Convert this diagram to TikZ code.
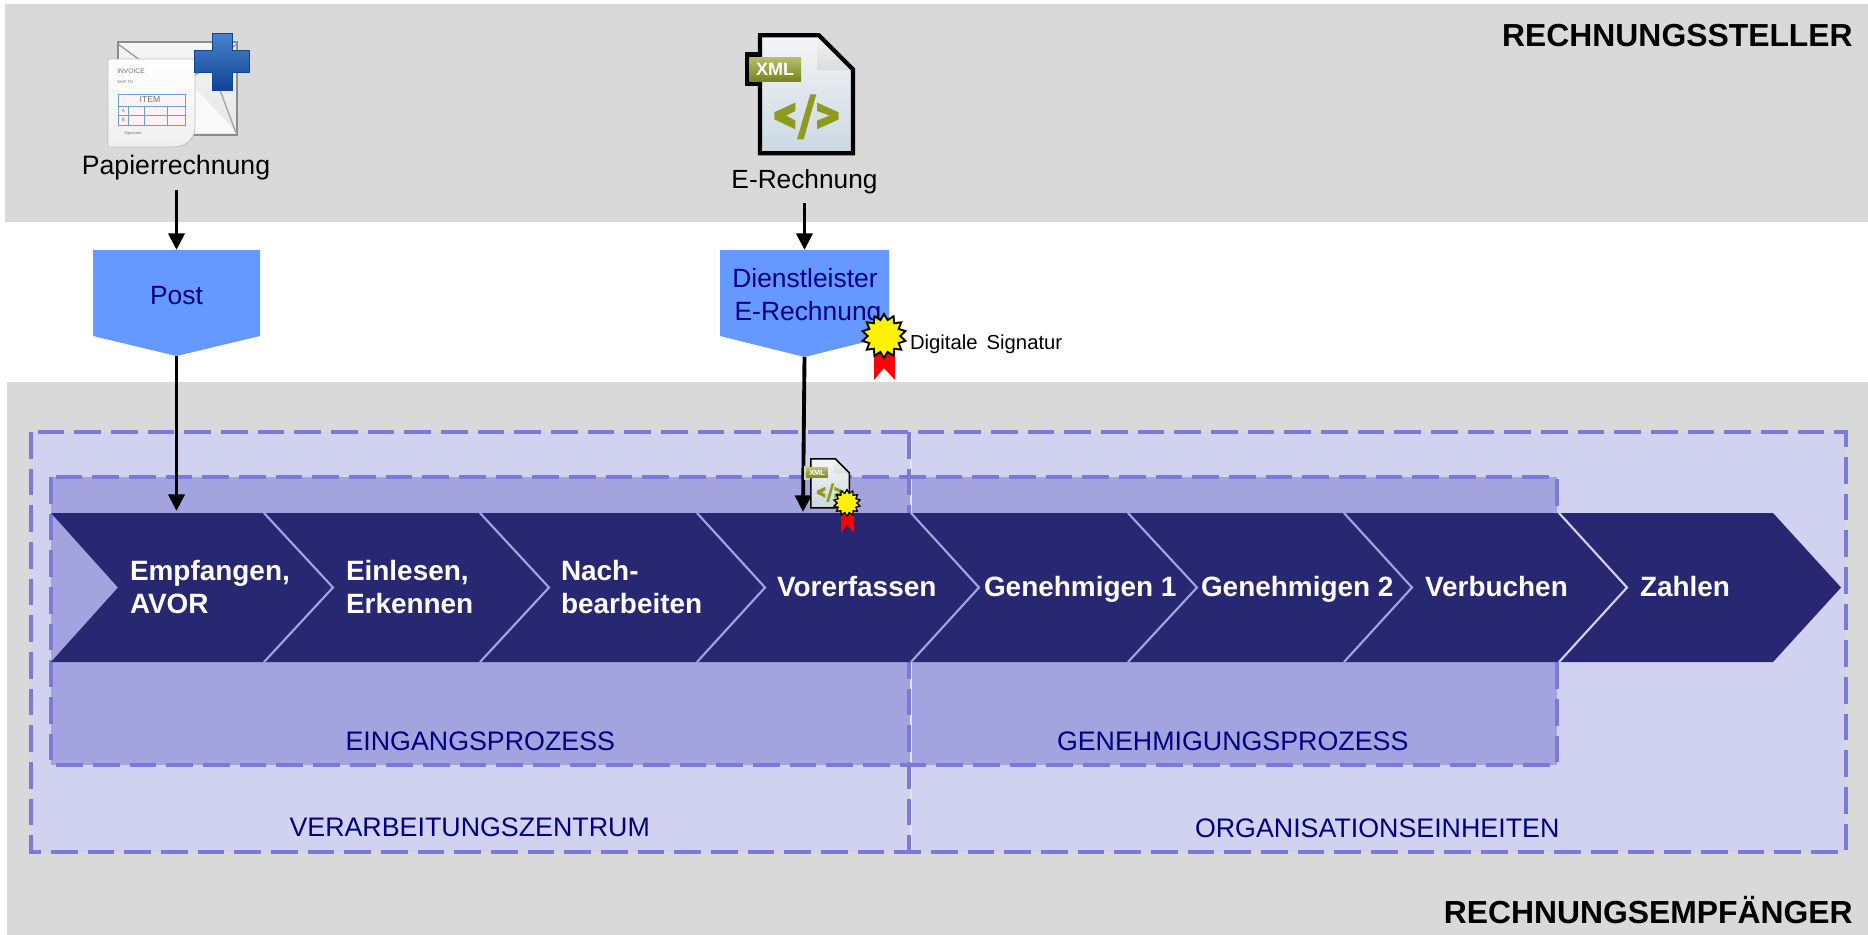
\documentclass[tikz,border=0pt]{standalone}
\usepackage{fontspec}
\setmainfont{Liberation Sans}
\usetikzlibrary{arrows.meta,shapes.geometric}
\definecolor{grayband}{HTML}{D9D9D9}
\definecolor{outerfill}{HTML}{D0D2F0}
\definecolor{innerfill}{HTML}{A3A3DF}
\definecolor{dashcol}{HTML}{7B7BD6}
\definecolor{chevcol}{HTML}{272772}
\definecolor{navytext}{HTML}{000080}
\definecolor{postblue}{HTML}{6699FF}
\definecolor{olive}{HTML}{8F9B1E}
\definecolor{docbottom}{HTML}{CAD8E2}
\definecolor{tablecol}{HTML}{6F9BD8}
\definecolor{plustop}{HTML}{4A82CC}
\definecolor{plusbot}{HTML}{0F4595}
\tikzset{
  lbl/.style={inner sep=0pt,outer sep=0pt,anchor=base west},
  chevtext/.style={lbl,text=white,font=\fontsize{20.95}{25}\selectfont\bfseries},
  areatext/.style={lbl,text=navytext,font=\fontsize{20.1}{24}\selectfont},
  headtext/.style={inner sep=0pt,anchor=base east,font=\fontsize{23.9}{29}\selectfont\bfseries},
  dashbox/.style={draw=dashcol,line width=2.4pt,dash pattern=on 20pt off 7.5pt},
  flow/.style={draw=black,line width=2.9pt,-{Triangle[length=12.5pt,width=12pt]}},
  sep/.style={draw=innerfill,line width=1.6pt},
  tinytext/.style={inner sep=0pt,text=black!55,font=\fontsize{#1}{#1}\selectfont},
}
\newcommand{\docicon}[5]{%
\begin{scope}[shift={(#1,#2)},scale=#3]
  \path[#5] (-13.3,19) rectangle (3,53);
  \shade[top color=white!96!black,bottom color=docbottom] (2,2)--(61,2)--(95,36)--(95,120)--(2,120)--cycle;
  \shade[top color=white!90!gray,bottom color=white!72!gray] (59,4)--(93,37)--(59,37)--cycle;
  \draw[line width=#4,line join=miter] (2,2)--(61,2)--(95,36)--(95,120)--(2,120)--cycle;
  \shade[top color=olive!65!white,bottom color=olive!85!black] (-8.7,24) rectangle (43,48);
  \node[inner sep=0pt,transform shape,text=white,font=\fontsize{13.5}{14}\selectfont\bfseries] (xml#1) at (17.2,36) {XML};
  \fill[olive] (37.3,69.3)--(37.3,77.7)--(28.3,82.3)--(37.3,87.3)--(37.3,96)--(16.3,86)--(16.3,79)--cycle;
  \fill[olive] (59,69.3)--(80.7,79)--(80.7,86)--(59,96)--(59,87.3)--(71.7,82.3)--(59,77.7)--cycle;
  \fill[olive] (52.3,61)--(58.3,61)--(45.7,106)--(39,106)--cycle;
\end{scope}}
\newcommand{\sealicon}[9]{%
  \fill[red] (#3,#2) -- (#4,#2) -- (#4,#6) -- (#1,#7) -- (#3,#6) -- cycle;
  \node[star,star points=14,star point ratio=1.35,minimum size=#8,inner sep=0pt,draw=black,line width=#9,fill=yellow] (seal#1) at (#1,#5) {};
}
\begin{document}
\begin{tikzpicture}[x=0.75pt,y=-0.75pt]
\useasboundingbox (0,0) rectangle (1868,935);
% bands
\fill[grayband] (5,4) rectangle (1868,222);
\fill[grayband] (7,382) rectangle (1868,935);
\node[headtext] (steller) at (1853,46) {RECHNUNGSSTELLER};
\node[headtext] (empf) at (1853,923) {RECHNUNGSEMPFÄNGER};
% outer areas
\fill[outerfill] (31,432) rectangle (1846,852);
\fill[innerfill] (51,477) rectangle (1557,765);
\draw[outerfill!60!white,line width=.8pt] (911,432) -- (911,852);
\draw[dashbox] (31,432) rectangle (1846,852);
\draw[dashbox] (51,477) rectangle (1557,765);
\draw[dashbox] (909,432) -- (909,852);
% chevrons
\fill[chevcol] (51,513) -- (1773,513) -- (1841,587.5) -- (1773,662) -- (51,662) -- (118,587.5) -- cycle;
\foreach \xa/\xb in {264/333,480/549,697/765,911/979,1128/1197,1344/1412}{
  \draw[sep] (\xa,513) -- (\xb,587.5) -- (\xa,662);
}
\draw[draw=outerfill,line width=1.6pt] (1559,513) -- (1627,587.5) -- (1559,662);
\node[chevtext] (s1a) at (130,580) {Empfangen,};
\node[chevtext] (s1b) at (130,613) {AVOR};
\node[chevtext] (s2a) at (346,580) {Einlesen,};
\node[chevtext] (s2b) at (346,613) {Erkennen};
\node[chevtext] (s3a) at (561,580) {Nach-};
\node[chevtext] (s3b) at (561,613) {bearbeiten};
\node[chevtext] (s4) at (777,596) {Vorerfassen};
\node[chevtext] (s5) at (984,596) {Genehmigen 1};
\node[chevtext] (s6) at (1201,596) {Genehmigen 2};
\node[chevtext] (s7) at (1425,596) {Verbuchen};
\node[chevtext] (s8) at (1640,596) {Zahlen};
% area labels
\node[areatext] (a1) at (345.5,750) {EINGANGSPROZESS};
\node[areatext] (a2) at (1057,750) {GENEHMIGUNGSPROZESS};
\node[areatext] (a3) at (289.5,836) {VERARBEITUNGSZENTRUM};
\node[areatext] (a4) at (1195,837) {ORGANISATIONSEINHEITEN};
% pentagons
\fill[postblue] (93,250) -- (260,250) -- (260,336) -- (176.5,356) -- (93,336) -- cycle;
\fill[postblue] (720,250) -- (889,250) -- (889,336) -- (804.5,357) -- (720,336) -- cycle;
\node[inner sep=0pt,anchor=base,text=navytext,font=\fontsize{19.8}{24}\selectfont] (post) at (176.5,304) {Post};
\node[inner sep=0pt,anchor=base,text=navytext,font=\fontsize{19.8}{24}\selectfont] (dl1) at (805,287) {Dienstleister};
\node[inner sep=0pt,anchor=base,text=navytext,font=\fontsize{19.8}{24}\selectfont] (dl2) at (808,320) {E-Rechnung};
% top labels
\node[inner sep=0pt,anchor=base,font=\fontsize{20}{24}\selectfont] (papier) at (176,174) {Papierrechnung};
\node[inner sep=0pt,anchor=base,font=\fontsize{19.7}{24}\selectfont] (erech) at (804.5,188) {E-Rechnung};
% connectors
\coordinate (p1) at (176.5,190);
\coordinate (p2) at (176.5,250);
\coordinate (p3) at (176.5,356);
\coordinate (p4) at (176.5,511);
\coordinate (e1) at (804.5,203);
\coordinate (e2) at (804.5,250);
\coordinate (e3) at (804.5,357);
\coordinate (e4) at (803,512);
\draw[flow] (p1) -- (p2);
\draw[flow] (p3) -- (p4);
\draw[flow] (e1) -- (e2);
\draw[flow] (e3) -- (e4);
% envelope
\shade[top color=white!92!gray,bottom color=white!80!gray,draw=black!45,line width=1.5pt] (118,42) rectangle (237,135);
\fill[white!95!gray] (178,88)--(197,90)--(237,133)--(195,133)--cycle;
\draw[black!40,line width=1pt] (118,44)--(178,88)--(237,44);
\draw[black!35,line width=1pt] (220,90)--(236,133);
% invoice page
\shade[top color=white,bottom color=white!88!gray,draw=black!25,line width=.6pt] (108,59) -- (195,59) -- (195,128) .. controls (194,140) and (186,147) .. (172,147) -- (108,147) -- cycle;
\fill[red!5] (118,94) rectangle (185,125);
\draw[tablecol,line width=.7pt] (118,94) rectangle (185,125);
\draw[tablecol,line width=.7pt] (118,106)--(185,106) (118,115)--(185,115) (128.7,106)--(128.7,125) (144,106)--(144,125) (167,106)--(167,125);
\node[tinytext=5] (inv) at (131,71) {INVOICE};
\node[tinytext=3] (ship) at (125,82.5) {SHIP TO};
\node[tinytext=6.5] (item) at (150,100) {ITEM};
\node[tinytext=3.5] (ia) at (123.5,110.5) {A};
\node[tinytext=3.5] (ib) at (123.5,120) {B};
\node[tinytext=3] (sig) at (133,133.5) {Signature};
% plus
\shade[top color=plustop,bottom color=plusbot,draw=plusbot,line width=.6pt] (212,33) -- (232,33) -- (232,50) -- (249,50) -- (249,72) -- (232,72) -- (232,90) -- (212,90) -- (212,72) -- (194,72) -- (194,50) -- (212,50) -- cycle;
% document icons
\docicon{758}{33.3}{1}{3.2pt}{fill=black}
\docicon{810}{458}{.415}{1.1pt}{fill=olive!40!white}
% seals
\sealicon{884}{352}{874}{895}{336}{380}{368}{33pt}{1.4pt}
\sealicon{847}{513}{841}{854}{503}{533}{525}{20pt}{1pt}
\node[lbl,font=\fontsize{15.2}{20}\selectfont,text=black] (sigtxt) at (910,349) {Digitale\hspace{.45em}Signatur};
\end{tikzpicture}
\end{document}
